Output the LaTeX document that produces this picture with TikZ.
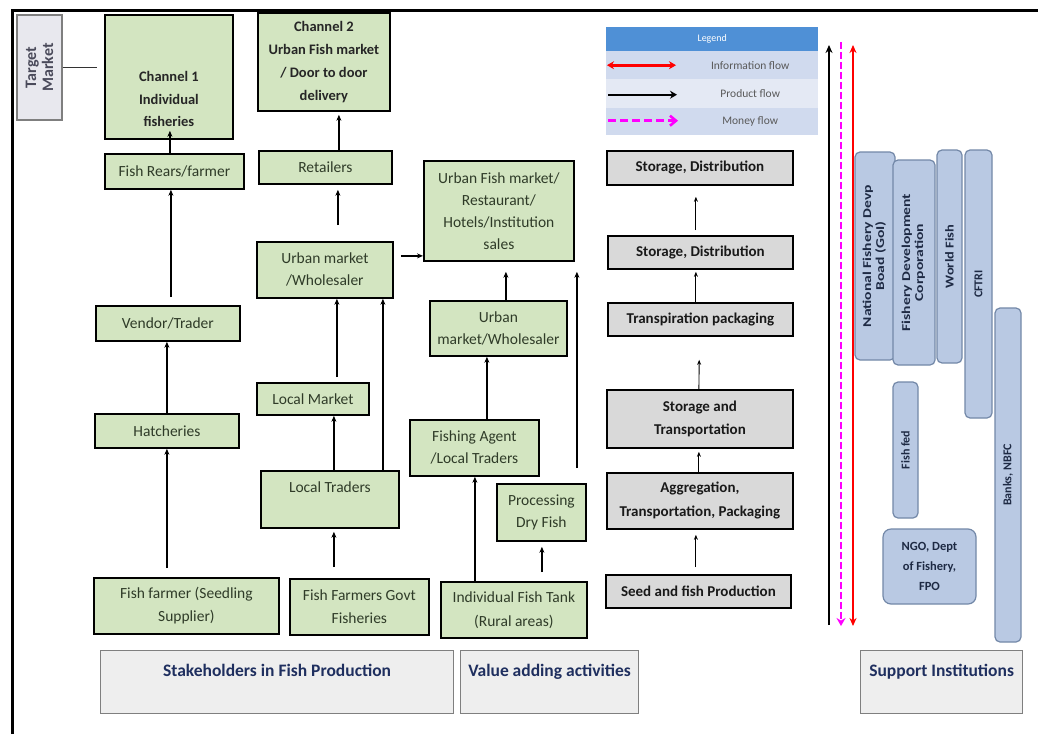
\documentclass[tikz,border=0pt]{standalone}
\usepackage{fontspec}
\setmainfont{Carlito}
\usetikzlibrary{arrows.meta}
\definecolor{grn}{HTML}{D3E5C1}
\definecolor{gtxt}{HTML}{2F3B28}
\definecolor{gry}{HTML}{D9D9D9}
\definecolor{catf}{HTML}{EEEEEE}
\definecolor{catb}{HTML}{7F7F7F}
\definecolor{navy}{HTML}{1F2F5F}
\definecolor{blu}{HTML}{B9C9E3}
\definecolor{blub}{HTML}{7388A8}
\definecolor{instt}{HTML}{1E2A44}
\definecolor{legh}{HTML}{4F90D6}
\definecolor{lega}{HTML}{D0DAEE}
\definecolor{legb}{HTML}{E4E9F4}
\definecolor{legt}{HTML}{595959}
\definecolor{mag}{HTML}{FF00FF}
\definecolor{tmf}{HTML}{E8E8EE}
\definecolor{tmt}{HTML}{4A4A5A}
\newcommand{\tl}[1]{\begin{tabular}[t]{@{}c@{}}#1\end{tabular}}
\newcommand{\cl}[1]{\begin{tabular}{@{}c@{}}#1\end{tabular}}
\begin{document}
\begin{tikzpicture}[x=1pt,y=-1pt,
  gbox/.style={draw=black, line width=1.8pt, fill=grn, text=gtxt, font=\fontsize{15.5}{22}\selectfont, align=center, inner sep=0pt, anchor=north west},
  sbox/.style={draw=black, line width=1.8pt, fill=gry, text=black!90, font=\bfseries\fontsize{15}{23}\selectfont, align=center, inner sep=0pt, anchor=north west},
  cat/.style={draw=catb, line width=1.2pt, fill=catf, text=navy, font=\bfseries\fontsize{17.5}{20}\selectfont, inner xsep=0pt, inner ysep=0pt, anchor=north west, text height=26pt, text depth=37pt},
  inst/.style={draw=blub, line width=1.2pt, fill=blu, rounded corners=5pt, text=instt, font=\bfseries\fontsize{12}{13}\selectfont, align=center, inner sep=0pt},
  flow/.style={-{Stealth[length=6pt,width=5pt]}, line width=1.6pt, black},
  thinflow/.style={-{Stealth[length=5pt,width=4pt]}, line width=0.9pt, black},
  legrow/.style={minimum width=212pt, inner sep=0pt, font=\fontsize{11.5}{13}\selectfont, text=legt, anchor=north west}
]
\useasboundingbox (0,0) rectangle (1038,734);
\fill[white] (0,0) rectangle (1038,734);
\draw[line width=3pt, line join=miter] (12,734) -- (12,10) -- (1038,10);

% target market
\node[rotate=90, draw=catb, line width=1.2pt, fill=tmf, minimum width=105pt, minimum height=45pt, font=\bfseries\fontsize{16}{17}\selectfont, align=center, text=tmt, inner sep=0pt] (tm) at (39.5,67.5) {Target\\Market};
\coordinate (tmend) at (97,67.5);
\draw[line width=1.5pt, black!80] (tm.south) -- (tmend);

% green column 1
\node[gbox, minimum width=128pt, text height=67pt, text depth=57pt, font=\bfseries\fontsize{14.5}{22.5}\selectfont, text=black!85] (ch1) at (104,14) {\tl{Channel 1\\Individual\\fisheries}};
\node[gbox, minimum width=132pt, minimum height=98pt, font=\bfseries\fontsize{14.5}{23}\selectfont, text=black!85] (ch2) at (257,12) {Channel 2\\Urban Fish market\\/ Door to door\\delivery};
\node[gbox, minimum width=139pt, minimum height=35pt] (fr) at (104,153) {Fish Rears/farmer};
\node[gbox, minimum width=133pt, minimum height=33pt] (ret) at (258,150) {Retailers};
\node[gbox, minimum width=144pt, minimum height=35pt] (vt) at (95,305) {Vendor/Trader};
\node[gbox, minimum width=144pt, minimum height=34pt] (hat) at (94,413) {Hatcheries};
\node[gbox, minimum width=136pt, minimum height=56pt] (umw) at (256,241) {Urban market\\/Wholesaler};
\node[gbox, minimum width=112pt, minimum height=32pt] (lm) at (256,382) {Local Market};
\node[gbox, minimum width=138pt, text height=22pt, text depth=35pt] (lt) at (260,470) {Local Traders};
\node[gbox, minimum width=150pt, minimum height=100pt] (uf) at (423,160) {Urban Fish market/\\Restaurant/\\Hotels/Institution\\sales};
\node[gbox, minimum width=137pt, minimum height=55pt] (um2) at (429,300) {Urban\\market/Wholesaler};
\node[gbox, minimum width=129pt, minimum height=56pt] (fa) at (409,419) {Fishing Agent\\/Local Traders};
\node[gbox, minimum width=89pt, minimum height=57pt] (pdf) at (496,483) {Processing\\Dry Fish};
\node[gbox, minimum width=185pt, minimum height=56pt, font=\fontsize{15.5}{23}\selectfont] (ff) at (93,577) {Fish farmer (Seedling\\Supplier)};
\node[gbox, minimum width=139pt, minimum height=56pt, font=\fontsize{15.5}{23}\selectfont] (ffg) at (289,578) {Fish Farmers Govt\\Fisheries};
\node[gbox, minimum width=146pt, minimum height=56pt, font=\fontsize{15.5}{24}\selectfont] (ift) at (440,581) {Individual Fish Tank\\(Rural areas)};

% gray column
\node[sbox, minimum width=186pt, minimum height=34pt] (sd1) at (606,150) {Storage, Distribution};
\node[sbox, minimum width=185pt, minimum height=33pt] (sd2) at (607,235) {Storage, Distribution};
\node[sbox, minimum width=185pt, minimum height=33pt] (tp) at (607,302) {Transpiration packaging};
\node[sbox, minimum width=186pt, minimum height=58pt] (st) at (606,389) {Storage and\\Transportation};
\node[sbox, minimum width=186pt, minimum height=56pt, font=\bfseries\fontsize{15}{24}\selectfont] (agg) at (606,472) {Aggregation,\\Transportation, Packaging};
\node[sbox, minimum width=185pt, minimum height=33pt] (seed) at (605,574) {Seed and fish Production};

% section labels
\node[cat, minimum width=353pt] (stk) at (100,650) {Stakeholders in Fish Production};
\node[cat, minimum width=178pt] (val) at (460,650) {Value adding activities};
\node[cat, minimum width=162pt] (sup) at (860,650) {Support Institutions};

% legend
\node[legrow, fill=legh, minimum height=24pt, text=white, font=\fontsize{10}{12}\selectfont] (leg) at (606,27) {Legend};
\node[legrow, fill=lega, minimum height=28pt] (r1) at (606,51) {\hspace*{76pt}Information flow};
\node[legrow, fill=legb, minimum height=29pt] (r2) at (606,79) {\hspace*{76pt}Product flow};
\node[legrow, fill=lega, minimum height=27pt] (r3) at (606,108) {\hspace*{76pt}Money flow};
\draw[red, line width=2.6pt, {Stealth[length=7pt,width=8pt]}-{Stealth[length=7pt,width=8pt]}] ([xshift=1pt]r1.west) -- ([xshift=70pt]r1.west);
\draw[black, line width=2.2pt, -{Stealth[length=7pt,width=8pt]}] ([xshift=2pt,yshift=-1pt]r2.west) -- ([xshift=71pt,yshift=-1pt]r2.west);
\draw[mag, line width=2.6pt, dashed, dash pattern=on 8pt off 4pt, -{Straight Barb[length=6pt,width=10pt]}] ([xshift=2pt,yshift=1pt]r3.west) -- ([xshift=72pt,yshift=1pt]r3.west);

% support institutions
\node[inst, rotate=90, minimum width=208pt, minimum height=40pt] (nfdb) at (875,256) {\scalebox{1.3}[1]{\cl{National Fishery Devp\\Boad (GoI)}}};
\node[inst, rotate=90, minimum width=205pt, minimum height=42pt] (fdc) at (914,262.5) {\scalebox{1.3}[1]{\cl{Fishery Development\\Corporation}}};
\node[inst, rotate=90, minimum width=213pt, minimum height=25pt] (wf) at (949.5,256.5) {\scalebox{1.2}[1]{World Fish}};
\node[inst, rotate=90, minimum width=268pt, minimum height=27pt] (cftri) at (978.5,284) {CFTRI};
\node[inst, rotate=90, minimum width=334pt, minimum height=26pt] (banks) at (1008,475) {Banks, NBFC};
\node[inst, rotate=90, minimum width=136pt, minimum height=25pt] (fed) at (905.5,450) {Fish fed};
\node[inst, minimum width=93pt, minimum height=75pt, rounded corners=8pt, font=\bfseries\fontsize{12.5}{20}\selectfont] (ngo) at (929.5,566.5) {NGO, Dept\\of Fishery,\\FPO};

% big vertical flows
\coordinate (pb) at (829,625);
\coordinate (pt) at (829,45);
\coordinate (mt) at (841,42);
\coordinate (mb) at (841,626);
\coordinate (it) at (853,45);
\coordinate (ib) at (853,626);
\draw[black, line width=2pt, -{Stealth[length=8pt,width=7pt]}] (pb) -- (pt);
\draw[mag, line width=2.6pt, dash pattern=on 7pt off 3pt, -{Stealth[length=8pt,width=9pt]}] (mt) -- (mb);
\draw[red, line width=2pt, {Stealth[length=8pt,width=7pt]}-{Stealth[length=8pt,width=7pt]}] (ib) -- (it);

% product connectors
\draw[flow, shorten >=-9pt] ([xshift=-4.5pt]fr.north) -- ([xshift=1pt]ch1.south);
\draw[flow, shorten >=3pt] ([xshift=13.5pt]ret.north) -- ([xshift=15pt]ch2.south);
\draw[flow, shorten <=16pt, shorten >=5pt] ([xshift=13pt]umw.north) -- ([xshift=12.5pt]ret.south);
\draw[flow, shorten <=8pt] ([xshift=3pt]vt.north) -- ([xshift=-3.5pt]fr.south);
\draw[flow] (hat.north) -- ([xshift=-1pt]vt.south);
\draw[flow, shorten <=9pt] ([xshift=-19.5pt]ff.north) -- (hat.south);
\draw[flow, shorten <=5pt] ([xshift=24pt]lm.north) -- ([xshift=12pt]umw.south);
\draw[flow] ([xshift=4pt]lt.north) -- ([xshift=21pt]lm.south);
\draw[flow] ([xshift=53pt]lt.north) -- ([xshift=58pt]umw.south);
\draw[flow, shorten <=11pt, shorten >=3pt] ([xshift=-25.5pt]ffg.north) -- ([xshift=4pt]lt.south);
\draw[flow, shorten <=7pt] ([yshift=14pt]umw.east) -- ([yshift=-45pt]uf.west);
\draw[flow, shorten >=10pt] ([xshift=7.5pt]um2.north) -- ([xshift=7pt]uf.south);
\draw[flow] ([xshift=12.5pt]fa.north) -- ([xshift=-11.5pt]um2.south);
\draw[flow] ([xshift=-39pt]ift.north) -- ([xshift=0.5pt]fa.south);
\draw[flow, shorten <=9pt, shorten >=5pt] ([xshift=28pt]ift.north) -- ([xshift=0.5pt]pdf.south);
\draw[flow, shorten <=15pt, shorten >=10pt] ([xshift=35.5pt]pdf.north) -- ([xshift=78pt]uf.south);

% value chain connectors
\draw[thinflow, shorten <=5pt, shorten >=11pt] ([xshift=-4.5pt]sd2.north) -- ([xshift=-4pt]sd1.south);
\draw[thinflow, shorten >=2pt] ([xshift=-4.5pt]tp.north) -- ([xshift=-4.5pt]sd2.south);
\draw[thinflow, shorten >=23pt] ([xshift=-1pt]st.north) -- ([xshift=-1pt]tp.south);
\draw[thinflow, shorten >=3pt] ([xshift=-1pt]agg.north) -- ([xshift=-1pt]st.south);
\draw[thinflow, shorten <=7pt, shorten >=5pt] ([xshift=-2.5pt]seed.north) -- ([xshift=-4pt]agg.south);
\end{tikzpicture}
\end{document}
